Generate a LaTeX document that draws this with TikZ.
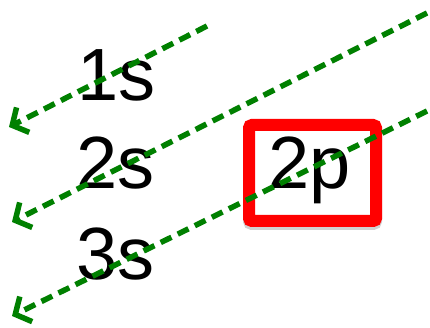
\documentclass[tikz,border=0pt]{standalone}
\usepackage{fontspec}
\setmainfont{Liberation Sans}
\usepackage{tikz}
\usetikzlibrary{arrows.meta,positioning}

\begin{document}
\begin{tikzpicture}[
    x=1pt, y=-1pt,
    orbital/.style={anchor=base west, inner sep=0pt, font=\fontsize{74}{88}\selectfont},
    redbox/.style={draw=red, line width=12pt, rounded corners=3pt, fill=white, minimum width=127pt, minimum height=96pt, inner sep=0pt},
    diag/.style={draw=green!50!black, line width=5.5pt, dash pattern=on 12pt off 7pt, -{Straight Barb[length=12pt,width=28pt]}}
]
\useasboundingbox (0,0) rectangle (430,328);

% highlighted box with its shadow
\draw[black!18, line width=12pt, rounded corners=3pt] (249,128) rectangle (376,224);
\node[redbox] (box) at (312.5,173) {};

% orbitals
\node[orbital] (s1) at (77,101) {1s};
\node[orbital] (s2) at (76,189) {2s};
\node[orbital] (s3) at (76,279) {3s};
\node[orbital] (p2) at (268,189) {2p};

% filling order
\coordinate (a1) at (207,26);
\coordinate (b1) at (9,127);
\coordinate (a2) at (427,13);
\coordinate (b2) at (12,222);
\coordinate (a3) at (427,111);
\coordinate (b3) at (12,316);
\draw[diag] (a1) -- (b1);
\draw[diag] (a2) -- (b2);
\draw[diag] (a3) -- (b3);

\end{tikzpicture}
\end{document}
